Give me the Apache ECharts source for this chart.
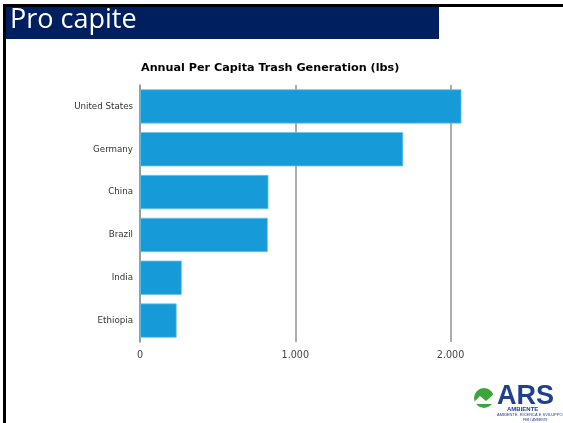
<!DOCTYPE html>
<html>
<head>
<meta charset="utf-8">
<script src="https://cdn.jsdelivr.net/npm/echarts@6/dist/echarts.min.js"></script>
<style>
  html, body { margin: 0; padding: 0; background: #fff; }
  #chart { width: 563px; height: 423px; }
</style>
</head>
<body>
<div id="chart"></div>
<script>
// Annual per-capita trash generation, pounds per person
const countries = ['United States', 'Germany', 'China', 'Brazil', 'India', 'Ethiopia'];
const trashLbs = [2070, 1695, 827, 823, 269, 236];
const tickValues = [0, 1000, 2000];

const chart = echarts.init(document.getElementById('chart'), null, { renderer: 'canvas' });

const fmt = v => String(v).replace(/\B(?=(\d{3})+(?!\d))/g, '.');

chart.setOption({
  animation: false,
  backgroundColor: '#ffffff',
  title: {
    text: 'Annual Per Capita Trash Generation (lbs)',
    left: 136,
    top: 57.5,
    textStyle: { fontFamily: 'DejaVu Sans', fontWeight: 'bold', fontSize: 11.2, color: '#000' }
  },
  grid: { left: 140, top: 85, width: 323, height: 257, containLabel: false },
  xAxis: {
    type: 'value',
    min: 0,
    max: 2080,
    interval: 1000,
    axisLine: { show: false },
    axisTick: { show: false },
    axisLabel: {
      showMaxLabel: false,
      margin: 8,
      fontFamily: 'DejaVu Sans',
      fontSize: 9.6,
      color: '#444',
      formatter: v => (tickValues.indexOf(v) >= 0 ? fmt(v) : '')
    },
    splitLine: { show: true, showMinLine: true, showMaxLine: false, lineStyle: { color: '#999', width: 1.6 } }
  },
  yAxis: {
    type: 'category',
    data: countries,
    inverse: true,
    axisLine: { show: true, lineStyle: { color: '#999', width: 1.6 } },
    axisTick: { show: false },
    axisLabel: { margin: 7, fontFamily: 'DejaVu Sans', fontSize: 8.7, color: '#333' }
  },
  series: [{
    type: 'bar',
    data: trashLbs,
    barCategoryGap: '20%',
    itemStyle: { color: '#169bd8', borderColor: '#6cc4ec', borderWidth: 0.8 }
  }],
  graphic: [
    // slide frame
    { type: 'rect', shape: { x: 3, y: 4, width: 560, height: 3 }, style: { fill: '#000' }, silent: true },
    { type: 'rect', shape: { x: 3, y: 4, width: 3, height: 419 }, style: { fill: '#000' }, silent: true },
    // heading band
    { type: 'rect', shape: { x: 6, y: 7, width: 433, height: 32 }, style: { fill: '#001f5e' }, silent: true },
    { type: 'text', left: 10, top: 7, style: { text: 'Pro capite', fill: '#fff', font: '27px "Open Sans"' }, silent: true },
    // company mark
    { type: 'circle', shape: { cx: 484, cy: 398, r: 10 }, style: { fill: '#3aa63a' }, silent: true },
    { type: 'polygon', shape: { points: [[474, 402], [480, 396], [486, 401], [494, 394], [494, 404], [474, 404]] }, style: { fill: '#fff' }, silent: true },
    { type: 'text', left: 497, top: 383, style: { text: 'ARS', fill: '#1f3f8f', font: 'bold 27px "Liberation Sans"' }, silent: true },
    { type: 'text', left: 507, top: 406, style: { text: 'AMBIENTE', fill: '#1f3f8f', font: 'bold 6px "Liberation Sans"' }, silent: true },
    { type: 'text', left: 497, top: 413, style: { text: 'AMBIENTE, RICERCA E SVILUPPO', fill: '#1f3f8f', font: '4px "Liberation Sans"' }, silent: true },
    { type: 'text', left: 523, top: 419, style: { text: 'PER L\'AMBIENTE', fill: '#1f3f8f', font: '3px "Liberation Sans"' }, silent: true }
  ]
});
</script>
</body>
</html>
